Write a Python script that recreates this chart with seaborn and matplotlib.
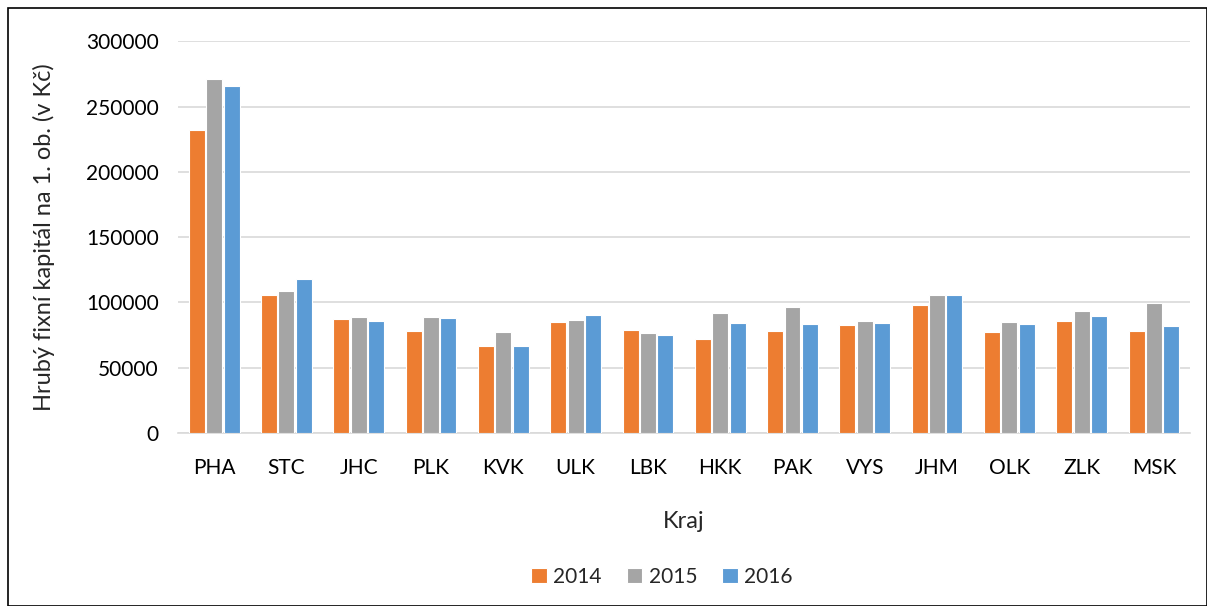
import pandas as pd
import matplotlib.pyplot as plt
import seaborn as sns
from matplotlib.patches import Rectangle

kraje = ["PHA", "STC", "JHC", "PLK", "KVK", "ULK", "LBK", "HKK", "PAK", "VYS", "JHM", "OLK", "ZLK", "MSK"]
roky = ["2014", "2015", "2016"]
hfk_2014 = [231900, 106000, 87400, 78000, 66700, 84800, 79000, 72300, 78400, 82500, 98200, 77700, 86100, 78200]
hfk_2015 = [271100, 108600, 89100, 89100, 77400, 86900, 76900, 91500, 96100, 85600, 105300, 85100, 93300, 99400]
hfk_2016 = [265700, 118000, 85600, 88100, 66700, 90700, 75400, 84600, 83800, 84600, 105900, 83800, 89700, 82000]

data = pd.DataFrame({
    "Kraj": kraje * 3,
    "Rok": [r for r in roky for _ in kraje],
    "Hodnota": hfk_2014 + hfk_2015 + hfk_2016,
})

sns.set_theme(style="white")
plt.rcParams["font.family"] = ["Lato", "DejaVu Sans"]

fig = plt.figure(figsize=(12.07, 6.06), dpi=100)
ax = fig.add_axes([0.1475, 0.2855, 0.8385, 0.6465])

sns.barplot(
    data=data, x="Kraj", y="Hodnota", hue="Rok",
    palette=["#ED7D31", "#A5A5A5", "#5B9BD5"], saturation=1,
    width=0.72, gap=0.08, edgecolor="white", linewidth=0.8,
    ax=ax, zorder=3,
)

ax.set_ylim(0, 300000)
ax.set_yticks(range(0, 300001, 50000))
ax.yaxis.grid(True, color="#D9D9D9", linewidth=1.2, zorder=0)
ax.set_axisbelow(True)
for side in ["top", "right", "left"]:
    ax.spines[side].set_visible(False)
ax.spines["bottom"].set_color("#D9D9D9")
ax.spines["bottom"].set_linewidth(1.2)
ax.tick_params(axis="both", length=0, labelsize=15, colors="#000000")
ax.tick_params(axis="x", pad=18)
ax.tick_params(axis="y", pad=14)
ax.set_xlabel("Kraj", fontsize=17, labelpad=24)
ax.set_ylabel("Hrubý fixní kapitál na 1. ob. (v Kč)", fontsize=17, labelpad=22)

handles, labels = ax.get_legend_handles_labels()
ax.legend_.remove()
fig.legend(
    handles, labels, loc="center", bbox_to_anchor=(662 / 1207, 1 - 577 / 606), ncol=3,
    frameon=False, fontsize=15, handlelength=0.75, handleheight=0.75,
    columnspacing=1.2, handletextpad=0.3,
)

fig.patches.append(Rectangle((8 / 1207, 0), 1 - 8 / 1207, 1 - 8 / 606,
                             transform=fig.transFigure, fill=False,
                             edgecolor="black", linewidth=1.2))

plt.savefig("out.png", dpi=100)
